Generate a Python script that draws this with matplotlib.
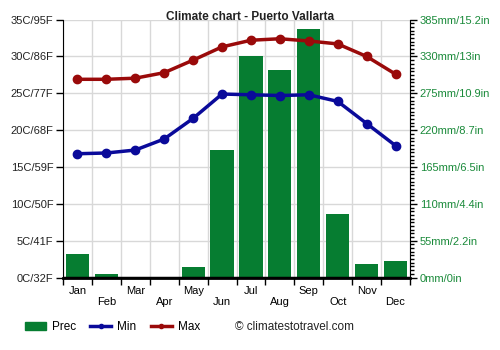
import numpy as np
import matplotlib
matplotlib.use("Agg")
import matplotlib.pyplot as plt
from matplotlib.patches import Patch
from matplotlib.lines import Line2D

plt.rcParams['font.family'] = ['Liberation Sans', 'DejaVu Sans']

# Data
months = ["Jan", "Feb", "Mar", "Apr", "May", "Jun", "Jul", "Aug", "Sep", "Oct", "Nov", "Dec"]
prec = [35, 5, 1, 1, 16, 190, 330, 310, 371, 95, 20, 25]
tmin = [16.8, 16.9, 17.3, 18.8, 21.6, 24.9, 24.8, 24.7, 24.8, 23.9, 20.9, 17.9]
tmax = [26.9, 26.9, 27.05, 27.8, 29.5, 31.3, 32.2, 32.4, 32.1, 31.7, 30.0, 27.6]
temp_ticks = [0, 5, 10, 15, 20, 25, 30, 35]
temp_labels = ["0C/32F", "5C/41F", "10C/50F", "15C/59F", "20C/68F", "25C/77F", "30C/86F", "35C/95F"]
prec_ticks = [0, 55, 110, 165, 220, 275, 330, 385]
prec_labels = ["0mm/0in", "55mm/2.2in", "110mm/4.4in", "165mm/6.5in",
               "220mm/8.7in", "275mm/10.9in", "330mm/13in", "385mm/15.2in"]

green = "#067d31"
blue = "#0a0a9a"
red = "#9a0a0a"
rgreen = "#1a8a3a"

fig = plt.figure(figsize=(5, 3.5), dpi=100)
ax2 = fig.add_axes([0.126, 0.207, 0.694, 0.737])  # precipitation (behind)
ax = fig.add_axes([0.126, 0.207, 0.694, 0.737], sharex=ax2)  # temperature (front)
ax.patch.set_visible(False)

x = np.arange(12)

# Bars
ax2.bar(x, prec, width=0.8, color=green, zorder=2)
ax2.set_ylim(0, 385)
ax2.set_xlim(-0.5, 11.5)
ax2.yaxis.tick_right()
ax2.set_yticks(prec_ticks)
ax2.set_yticklabels(prec_labels, color=rgreen, fontsize=8)
ax2.set_yticks(np.arange(0, 385.1, 5.5), minor=True)
ax2.tick_params(axis='y', which='major', length=5, width=1, color='black', pad=2)
ax2.tick_params(axis='y', which='minor', length=3, width=1, color='black')
ax2.set_xticks(np.arange(-0.5, 12, 1), minor=True)
ax2.grid(True, which='major', axis='y', color='#d8d8d8', linewidth=1, zorder=0)
ax2.grid(True, which='minor', axis='x', color='#d8d8d8', linewidth=1, zorder=0)
ax2.set_axisbelow(True)
for s in ['top', 'left', 'bottom']:
    ax2.spines[s].set_visible(False)
ax2.spines['right'].set_color('black')

# Temperature lines
ax.plot(x, tmin, color=blue, linewidth=2.5, marker='o', markersize=6, zorder=3)
ax.plot(x, tmax, color=red, linewidth=2.5, marker='o', markersize=6, zorder=3)
ax.set_ylim(0, 35)
ax.set_yticks(temp_ticks)
ax.set_yticklabels(temp_labels, fontsize=8, color='#222222')
ax.tick_params(axis='y', length=5, width=1, pad=2)
for s in ['top', 'right']:
    ax.spines[s].set_visible(False)
ax.spines['bottom'].set_linewidth(2)
ax.axhline(0, color='black', linewidth=2.5, zorder=4)

# X ticks: labels in two rows, tick marks at month boundaries
ax.set_xticks(x)
ax.set_xticklabels([m if i % 2 == 0 else "\n" + m for i, m in enumerate(months)], fontsize=8)
ax.tick_params(axis='x', which='major', length=0, pad=6)
ax.set_xticks(np.arange(-0.5, 12, 1), minor=True)
ax.tick_params(axis='x', which='minor', length=5, width=1)
ax2.tick_params(axis='x', which='both', labelbottom=False, length=0)

fig.text(0.5, 0.952, "Climate chart - Puerto Vallarta", ha='center', va='center',
         fontsize=8.5, fontweight='bold', color='#222222')

handles = [Patch(color=green),
           Line2D([0], [0], color=blue, linewidth=2.5, marker='o', markersize=3),
           Line2D([0], [0], color=red, linewidth=2.5, marker='o', markersize=3)]
fig.legend(handles, ["Prec", "Min", "Max"], loc='center left', bbox_to_anchor=(0.028, 0.065),
           ncol=3, frameon=False, fontsize=8.5, handlelength=1.8, columnspacing=1.2,
           handletextpad=0.5)
fig.text(0.47, 0.065, "© climatestotravel.com", ha='left', va='center', fontsize=8.5, color='#222222')

fig.savefig("out.png", dpi=100)
